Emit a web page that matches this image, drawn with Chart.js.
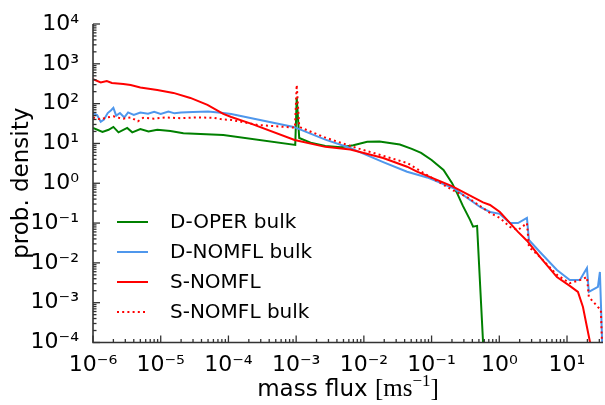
<!DOCTYPE html>
<html>
<head>
<meta charset="utf-8">
<script src="https://cdn.jsdelivr.net/npm/chart.js@4"></script>
<style>
  html, body { margin: 0; padding: 0; background: #fff; }
  #chart { display: block; }
</style>
</head>
<body>
<canvas id="chart" width="605" height="405"></canvas>
<script>
// probability density of the mass flux, one (flux, density) pair per run

const doperFlux = [1.0e-6, 1.38e-6, 1.7e-6, 2.0e-6, 2.38e-6, 3.2e-6, 3.8e-6, 5.0e-6, 6.6e-6, 8.9e-6,
  1.39e-5, 2.16e-5, 8.4e-5, 9.7e-4, 1.02e-3, 1.11e-3, 1.7e-3, 2.7e-3, 4.6e-3, 7.0e-3,
  1.12e-2, 1.7e-2, 3.4e-2, 5.1e-2, 7.0e-2, 0.1, 0.15, 0.2, 0.24, 0.29, 0.37, 0.41, 0.47, 0.58];
const doperDensity = [24.5, 19.4, 22, 26, 19, 24.5, 19, 23, 20, 22,
  20.6, 18, 16.3, 9.2, 141, 13.7, 10.2, 8.6, 8.0, 9.0,
  11.0, 11.2, 9.4, 7.3, 5.8, 3.85, 2.16, 1.02, 0.55, 0.27, 0.12, 0.081, 0.085, 8e-5];

const dnomflFlux = [1.0e-6, 1.15e-6, 1.3e-6, 1.45e-6, 1.65e-6, 1.85e-6, 2.0e-6, 2.2e-6, 2.5e-6, 2.9e-6,
  3.3e-6, 4.0e-6, 5.0e-6, 6.5e-6, 8.0e-6, 1.0e-5, 1.3e-5, 1.6e-5, 2.0e-5, 3.0e-5,
  5.0e-5, 8.4e-5, 1.1e-4, 2.2e-4, 9.2e-4, 2.7e-3, 6.3e-3, 8.2e-3, 1.93e-2, 4.35e-2,
  8.6e-2, 0.208, 0.52, 0.73, 1.02, 1.44, 1.89, 2.56, 2.74, 3.98,
  7.1, 11.0, 15.5, 19.7, 21.0, 28.6, 30.6, 33.5];
const dnomflDensity = [58, 52, 35, 40, 58, 68, 78, 50, 58, 45,
  60, 52, 60, 56, 62, 55, 63, 57, 60, 62,
  63, 58, 55, 43, 26, 12.5, 7.7, 6.3, 3.4, 1.95,
  1.4, 0.76, 0.254, 0.19, 0.17, 0.1, 0.1, 0.134, 0.0376, 0.0188,
  0.0066, 0.0037, 0.0037, 0.0074, 0.00186, 0.00248, 0.0059, 5e-5];

const snomflFlux = [1.0e-6, 1.3e-6, 1.6e-6, 1.9e-6, 2.8e-6, 3.6e-6, 5.0e-6, 8.9e-6, 1.54e-5, 2.74e-5,
  4.9e-5, 8.4e-5, 1.1e-4, 2.2e-4, 9.5e-4, 2.7e-3, 6.3e-3, 1.93e-2, 4.35e-2, 0.061,
  0.2, 0.575, 0.73, 1.02, 1.44, 1.89, 2.56, 3.98, 7.1, 11.0,
  14.5, 17.2, 19.7, 22.5];
const snomflDensity = [410, 340, 370, 330, 313, 295, 255, 221, 186, 139,
  93, 55, 46, 31, 12.2, 8.2, 7.0, 4.3, 2.6, 1.95,
  0.85, 0.33, 0.285, 0.19, 0.1, 0.06, 0.036, 0.0141, 0.0044, 0.00264,
  0.00186, 7.8e-4, 2.45e-4, 8e-5];

const snomflBulkFlux = [1.0e-6, 1.15e-6, 1.3e-6, 1.6e-6, 2.0e-6, 2.4e-6, 2.8e-6, 3.6e-6, 4.6e-6, 5.5e-6,
  8.0e-6, 1.2e-5, 2.0e-5, 3.5e-5, 6.0e-5, 8.4e-5, 1.1e-4, 2.76e-4, 9.6e-4, 1.02e-3,
  1.11e-3, 1.2e-3, 2.7e-3, 8.2e-3, 4.35e-2, 8.6e-2, 0.208, 0.334, 0.73, 1.02,
  1.44, 1.89, 2.56, 2.74, 3.98, 7.1, 11.0, 15.5, 19.7, 21.0,
  28.6, 31.6, 33.0];
const snomflBulkDensity = [45, 42, 40, 45, 48, 44, 42, 45, 36, 44,
  42, 45, 43, 45, 44, 40, 39, 29, 25, 295,
  27, 24.5, 14, 7.5, 3.24, 1.6, 0.66, 0.45, 0.18, 0.134,
  0.08, 0.0665, 0.1, 0.025, 0.0141, 0.005, 0.0031, 0.0037, 0.0044, 0.0014,
  7.8e-4, 6.6e-4, 8e-5];

const xTickValues = [1e-6, 1e-5, 1e-4, 1e-3, 1e-2, 1e-1, 1e0, 1e1];
const yTickValues = [1e-4, 1e-3, 1e-2, 1e-1, 1e0, 1e1, 1e2, 1e3, 1e4];

const axisColor = '#333333';
const sansFont = "'DejaVu Sans', sans-serif";
const serifFont = "'Liberation Serif', 'DejaVu Serif', serif";

const supChars = { '-': '\u207B', '0': '\u2070', '1': '\u00B9', '2': '\u00B2', '3': '\u00B3',
  '4': '\u2074', '5': '\u2075', '6': '\u2076', '7': '\u2077', '8': '\u2078', '9': '\u2079' };

function powerLabel(v) {
  const e = Math.round(Math.log10(v));
  return '10' + String(e).split('').map(c => supChars[c]).join('');
}

function toPoints(xs, ys) {
  return xs.map((x, i) => ({ x: x, y: ys[i] }));
}

// inward major/minor ticks and the two visible spines, drawn over the lines
const axisTicks = {
  id: 'axisTicks',
  afterDatasetsDraw(chart) {
    const { ctx, chartArea, scales } = chart;
    ctx.save();
    ctx.strokeStyle = axisColor;
    ctx.lineWidth = 1.3;
    const drawScale = (scale, horizontal) => {
      const lo = Math.floor(Math.log10(scale.min));
      const hi = Math.ceil(Math.log10(scale.max));
      for (let d = lo; d <= hi; d++) {
        for (let k = 1; k <= 9; k++) {
          const v = k * Math.pow(10, d);
          if (v < scale.min * 0.999 || v > scale.max * 1.001) continue;
          const p = scale.getPixelForValue(v);
          const len = k === 1 ? 7 : 3.5;
          ctx.beginPath();
          if (horizontal) {
            ctx.moveTo(p, chartArea.bottom);
            ctx.lineTo(p, chartArea.bottom - len);
          } else {
            ctx.moveTo(chartArea.left, p);
            ctx.lineTo(chartArea.left + len, p);
          }
          ctx.stroke();
        }
      }
    };
    drawScale(scales.x, true);
    drawScale(scales.y, false);
    ctx.lineWidth = 1.6;
    ctx.beginPath();
    ctx.moveTo(chartArea.left, chartArea.top);
    ctx.lineTo(chartArea.left, chartArea.bottom);
    ctx.lineTo(chartArea.right, chartArea.bottom);
    ctx.stroke();
    ctx.restore();
  }
};

// legend box in the lower left of the plot
const insideLegend = {
  id: 'insideLegend',
  afterDraw(chart) {
    const { ctx, chartArea } = chart;
    const x0 = chartArea.left + 24;
    const y0 = chartArea.top + 198;
    ctx.save();
    ctx.font = '20px ' + sansFont;
    ctx.textBaseline = 'middle';
    ctx.fillStyle = '#000';
    chart.data.datasets.forEach((ds, i) => {
      const y = y0 + i * 30;
      ctx.strokeStyle = ds.borderColor;
      ctx.lineWidth = ds.borderWidth;
      ctx.setLineDash(ds.borderDash || []);
      ctx.beginPath();
      ctx.moveTo(x0, y);
      ctx.lineTo(x0 + 31, y);
      ctx.stroke();
      ctx.setLineDash([]);
      ctx.fillText(ds.label, x0 + 53, y + 1);
    });
    ctx.restore();
  }
};

// axis titles; the unit part of the x title is set in a serif face
const axisTitles = {
  id: 'axisTitles',
  afterDraw(chart) {
    const { ctx, chartArea } = chart;
    ctx.save();
    ctx.fillStyle = '#000';
    ctx.textBaseline = 'alphabetic';

    ctx.save();
    ctx.translate(28, (chartArea.top + chartArea.bottom) / 2);
    ctx.rotate(-Math.PI / 2);
    ctx.font = '23px ' + sansFont;
    ctx.textAlign = 'center';
    ctx.fillText('prob. density', 0, 0);
    ctx.restore();

    const parts = [
      { t: 'mass flux ', f: '23px ' + sansFont, dy: 0 },
      { t: '[ms', f: '25px ' + serifFont, dy: 0 },
      { t: '\u22121', f: '17px ' + serifFont, dy: -10 },
      { t: ']', f: '25px ' + serifFont, dy: 0 }
    ];
    let total = 0;
    parts.forEach(p => { ctx.font = p.f; p.w = ctx.measureText(p.t).width; total += p.w; });
    let x = (chartArea.left + chartArea.right) / 2 - total / 2;
    const base = 396;
    ctx.textAlign = 'left';
    parts.forEach(p => {
      ctx.font = p.f;
      ctx.fillText(p.t, x, base + p.dy);
      x += p.w;
    });
    ctx.restore();
  }
};

const lineStyle = { pointRadius: 0, pointHoverRadius: 0, borderWidth: 2, tension: 0, fill: false };

new Chart(document.getElementById('chart'), {
  type: 'line',
  data: {
    datasets: [
      Object.assign({ label: 'D-OPER bulk', data: toPoints(doperFlux, doperDensity),
        borderColor: '#008000', order: 4 }, lineStyle),
      Object.assign({ label: 'D-NOMFL bulk', data: toPoints(dnomflFlux, dnomflDensity),
        borderColor: '#4f97ec', order: 3 }, lineStyle),
      Object.assign({ label: 'S-NOMFL', data: toPoints(snomflFlux, snomflDensity),
        borderColor: '#ff0000', order: 2 }, lineStyle),
      Object.assign({ label: 'S-NOMFL bulk', data: toPoints(snomflBulkFlux, snomflBulkDensity),
        borderColor: '#ff0000', borderDash: [2, 3.2], order: 1 }, lineStyle)
    ]
  },
  options: {
    responsive: false,
    animation: false,
    events: [],
    layout: { padding: { top: 24, right: 2, left: 0, bottom: 0 } },
    plugins: {
      legend: { display: false },
      tooltip: { enabled: false }
    },
    scales: {
      x: {
        type: 'logarithmic',
        min: 1e-6,
        max: 34,
        grid: { display: false },
        border: { display: false },
        afterFit: (scale) => { scale.height = 62.5; },
        afterBuildTicks: (scale) => { scale.ticks = xTickValues.map(v => ({ value: v })); },
        ticks: {
          color: '#000',
          padding: 2,
          autoSkip: false,
          maxRotation: 0,
          font: { family: sansFont, size: 22 },
          callback: (v) => powerLabel(v)
        }
      },
      y: {
        type: 'logarithmic',
        min: 1e-4,
        max: 1e4,
        grid: { display: false },
        border: { display: false },
        afterFit: (scale) => { scale.width = 93; },
        afterBuildTicks: (scale) => { scale.ticks = yTickValues.map(v => ({ value: v })); },
        ticks: {
          color: '#000',
          padding: 6,
          autoSkip: false,
          font: { family: sansFont, size: 22 },
          callback: (v) => powerLabel(v)
        }
      }
    }
  },
  plugins: [axisTicks, insideLegend, axisTitles]
});
</script>
</body>
</html>
